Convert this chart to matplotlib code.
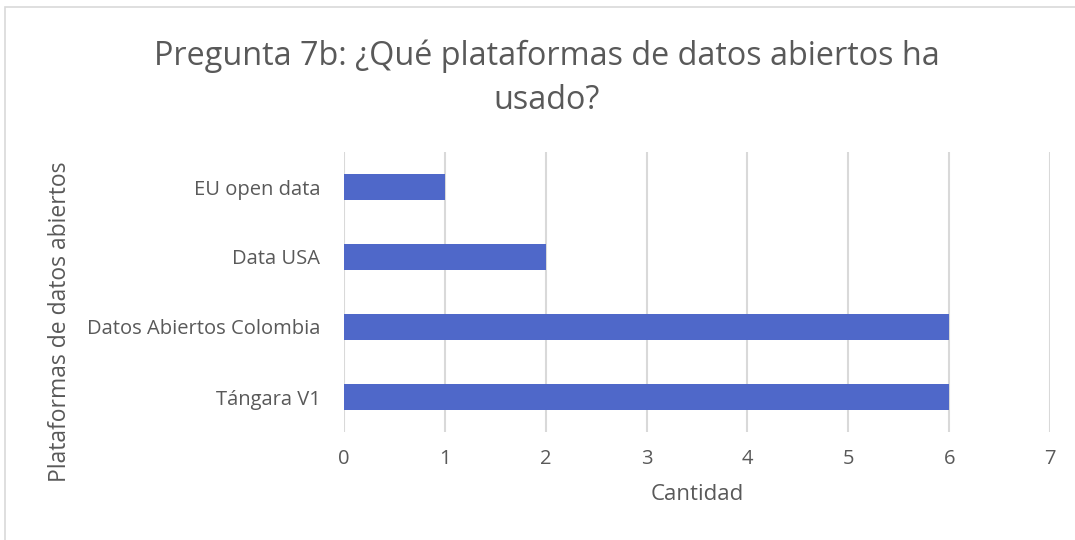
import matplotlib.pyplot as plt
from matplotlib.patches import Rectangle

categorias = ["Tángara V1", "Datos Abiertos Colombia", "Data USA", "EU open data"]
cantidad = [6, 6, 2, 1]
xticks = [0, 1, 2, 3, 4, 5, 6, 7]

plt.rcParams['font.family'] = ['Open Sans', 'DejaVu Sans']
gris = "#595959"

fig = plt.figure(figsize=(10.75, 5.4), dpi=100)
ax = fig.add_axes([344/1075, 1-432/540, (1050-344)/1075, 280/540])

ax.barh(range(len(categorias)), cantidad, height=0.36, color="#4F68C9", zorder=3)
ax.set_xlim(0, 7)
ax.set_ylim(-0.5, len(categorias)-0.5)
ax.set_xticks(xticks)
ax.set_yticks(range(len(categorias)))
ax.set_yticklabels(categorias)
ax.xaxis.grid(True, color="#d9d9d9", linewidth=1.5, zorder=0)
for s in ax.spines.values():
    s.set_visible(False)
ax.tick_params(length=0, labelsize=14.5, colors=gris)
ax.tick_params(axis='x', pad=12)
ax.tick_params(axis='y', pad=17)

fig.text(697/1075, 1-495/540, "Cantidad", ha="center", va="center", fontsize=16, color=gris)
fig.text(60/1075, 1-322/540, "Plataformas de datos abiertos", rotation=90,
         ha="center", va="center", fontsize=16.5, color=gris)
fig.text(547/1075, 1-78/540, "Pregunta 7b: ¿Qué plataformas de datos abiertos ha\nusado?",
         ha="center", va="center", fontsize=23.3, color=gris, linespacing=1.45)

fig.patches.append(Rectangle((5/1075, -0.1), 1.2, 1-7/540+0.1, transform=fig.transFigure,
                             fill=False, edgecolor="#d9d9d9", linewidth=1.2))

plt.savefig("out.png", dpi=100)
